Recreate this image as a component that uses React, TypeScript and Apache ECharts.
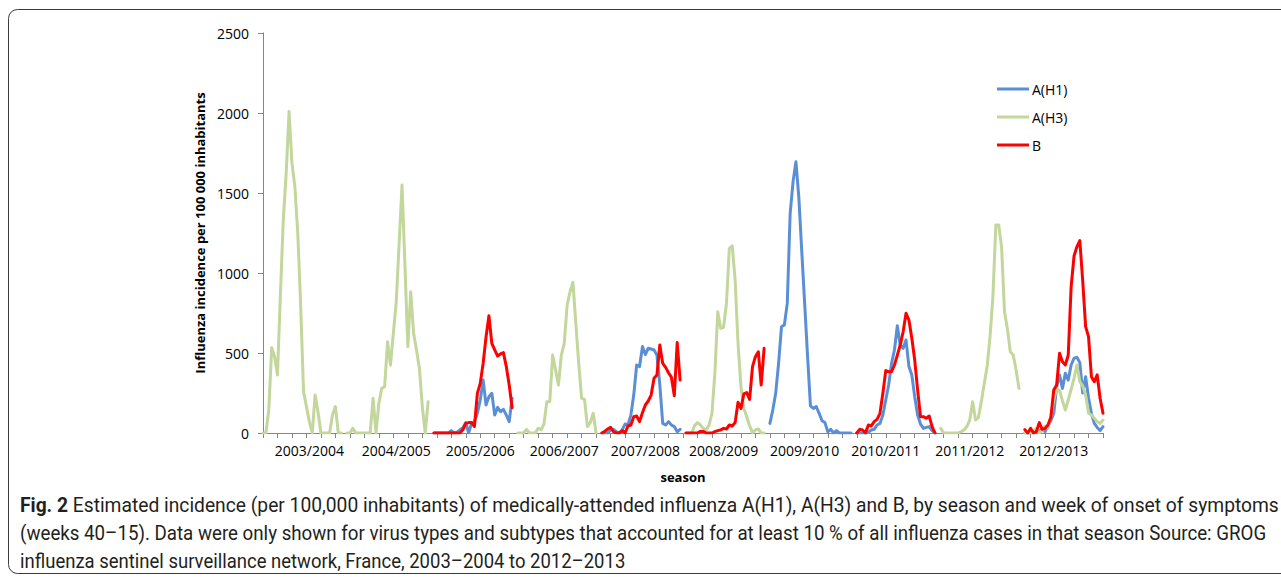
import React, { useEffect, useRef } from 'react';
import * as echarts from 'echarts';

// Seasons (x-axis groups) and number of surveillance weeks (40 -> 15) in each
const SEASONS = ['2003/2004', '2004/2005', '2005/2006', '2006/2007', '2007/2008', '2008/2009', '2009/2010', '2010/2011', '2011/2012', '2012/2013'];
const WEEKS_PER_SEASON = [28, 29, 28, 28, 28, 28, 29, 28, 28, 28];
// week row (within the season) that carries the season's category label
const LABEL_WEEK = [16, 17, 16, 16, 15, 13, 12, 10, 10, 10];

const Y_TICKS = [0, 500, 1000, 1500, 2000, 2500];

// Weekly incidence per 100 000 inhabitants, per season (null = subtype not shown that season)
const H1_2005 = [0, 0, 0, 0, 0, 0, 15, 0, 5, 20, 33, 65, 0, 60, 70, 123, 206, 331, 175, 227, 248, 112, 160, 133, 148, 112, 71, 217];
const H1_2007 = [0, 0, 0, 19, 23, 8, 0, 19, 56, 50, 112, 237, 425, 415, 540, 490, 530, 525, 519, 487, 300, 60, 50, 71, 50, 40, 8, 23];
const H1_2009 = [60, 144, 248, 435, 664, 675, 810, 1373, 1571, 1695, 1470, 1137, 810, 481, 169, 154, 165, 123, 77, 65, 8, 23, 0, 15, 0, 0, 0, 0, 0];
const H1_2010 = [0, 0, 0, 0, 5, 19, 23, 50, 60, 112, 206, 300, 435, 519, 670, 550, 529, 581, 415, 362, 227, 112, 56, 29, 35, 40, 15, 0];
const H1_2012 = [0, 0, 0, 0, 15, 8, 29, 8, 44, 77, 123, 290, 363, 279, 373, 331, 425, 467, 473, 440, 250, 352, 220, 123, 60, 35, 15, 40];

const H3_2003 = [0, 0, 144, 533, 477, 363, 862, 1331, 1623, 2010, 1685, 1540, 1250, 800, 258, 165, 71, 0, 238, 130, 0, 0, 0, 0, 115, 165, 0, 0];
const H3_2004 = [0, 0, 30, 0, 0, 0, 0, 0, 0, 217, 0, 185, 280, 290, 571, 425, 623, 820, 1185, 1550, 1050, 540, 883, 623, 519, 404, 165, 0, 196];
const H3_2006 = [0, 0, 0, 23, 0, 0, 0, 30, 20, 56, 196, 196, 487, 394, 300, 487, 560, 800, 883, 942, 685, 435, 217, 210, 40, 65, 123, 0];
const H3_2008 = [0, 0, 0, 46, 65, 50, 29, 19, 50, 123, 373, 758, 654, 660, 810, 1154, 1169, 956, 560, 290, 154, 102, 44, 2, 19, 25, 0, 0];
const H3_2011 = [29, 0, 0, 0, 0, 0, 0, 8, 19, 40, 81, 196, 81, 98, 196, 310, 415, 602, 852, 1300, 1300, 1160, 758, 650, 508, 487, 394, 279];
const H3_2012 = [0, 0, 0, 8, 29, 0, 15, 44, 29, 102, 206, 279, 265, 202, 144, 206, 273, 342, 425, 321, 294, 237, 123, 112, 92, 71, 60, 81];

const B_2005 = [0, 0, 0, 0, 0, 0, 0, 0, 0, 0, 20, 60, 65, 65, 40, 248, 310, 435, 600, 733, 560, 519, 481, 494, 502, 415, 300, 158];
const B_2007 = [0, 10, 25, 35, 8, 0, 0, 15, 0, 44, 50, 102, 106, 71, 127, 175, 200, 237, 342, 362, 550, 435, 410, 377, 348, 233, 565, 331];
const B_2008 = [0, 0, 0, 0, 0, 10, 10, 0, 0, 0, 8, 15, 19, 29, 25, 50, 44, 65, 192, 154, 244, 252, 210, 415, 477, 508, 300, 529];
const B_2010 = [0, 23, 19, 0, 50, 44, 71, 85, 123, 248, 390, 383, 383, 425, 487, 550, 633, 748, 706, 592, 456, 269, 102, 102, 92, 106, 40, 0];
const B_2012 = [21, 0, 29, 0, 8, 65, 23, 29, 50, 98, 269, 300, 498, 446, 425, 487, 914, 1106, 1164, 1202, 950, 665, 602, 352, 321, 363, 217, 123];

const H1_BY_SEASON = [null, null, H1_2005, null, H1_2007, null, H1_2009, H1_2010, null, H1_2012];
const H3_BY_SEASON = [H3_2003, H3_2004, null, H3_2006, null, H3_2008, null, null, H3_2011, H3_2012];
const B_BY_SEASON = [null, null, B_2005, null, B_2007, B_2008, null, B_2010, null, B_2012];

const SERIES_NAMES = ['A(H1)', 'A(H3)', 'B'];
const SERIES_COLORS = ['#5A8FD6', '#C3D69B', '#FF0000'];

const CAPTION_1 = 'Estimated incidence (per 100,000 inhabitants) of medically-attended influenza A(H1), A(H3) and B, by season and week of onset of symptoms';
const CAPTION_2 = '(weeks 40\u201315). Data were only shown for virus types and subtypes that accounted for at least 10 % of all influenza cases in that season Source: GROG';
const CAPTION_3 = 'influenza sentinel surveillance network, France, 2003\u20132004 to 2012\u20132013';

// ---- build the category axis (one row per week, one blank row between seasons)
const categories: string[] = [];
const labelAt: string[] = [];
SEASONS.forEach((s, si) => {
  const n = WEEKS_PER_SEASON[si];
  const firstYearWeeks = n - 15;
  for (let w = 0; w < n; w++) {
    const wk = w < firstYearWeeks ? 40 + w : w - firstYearWeeks + 1;
    categories.push(`${s} W${wk}`);
    labelAt.push(w === LABEL_WEEK[si] ? s : '');
  }
  if (si < SEASONS.length - 1) {
    categories.push(`${s} -`);
    labelAt.push('');
  }
});

function flatten(bySeason: (number[] | null)[]) {
  const out: (number | null)[] = [];
  SEASONS.forEach((_, si) => {
    const n = WEEKS_PER_SEASON[si];
    const arr = bySeason[si];
    for (let w = 0; w < n; w++) out.push(arr ? arr[w] : null);
    if (si < SEASONS.length - 1) out.push(null);
  });
  return out;
}

const SERIES_DATA = [flatten(H1_BY_SEASON), flatten(H3_BY_SEASON), flatten(B_BY_SEASON)];

const FONT = 'Open Sans';
const CAP_FONT = 'Roboto';
const CAP_SIZE = 20;
// legend key: a thin horizontal bar inside an invisible 32x14 box
const LEGEND_ICON = 'path://M0,0 M0,5.5 L32,5.5 L32,8.5 L0,8.5 Z M32,14';

export default function App() {
  const ref = useRef<HTMLDivElement>(null);
  useEffect(() => {
    if (!ref.current) return;
    const chart = echarts.init(ref.current, null, { renderer: 'svg' });
    const capStyle = (text: string) => ({
      text,
      fontFamily: CAP_FONT,
      fontSize: CAP_SIZE,
      fill: '#231f20',
      verticalAlign: 'middle' as const,
      rich: {
        b: { fontFamily: CAP_FONT, fontSize: CAP_SIZE, fontWeight: 'bold', fill: '#231f20' },
        n: { fontFamily: CAP_FONT, fontSize: CAP_SIZE, fill: '#231f20' },
      },
    });
    chart.setOption({
      animation: false,
      backgroundColor: '#ffffff',
      textStyle: { fontFamily: FONT },
      grid: { left: 263, right: 178, top: 33, bottom: 144 },
      legend: {
        orient: 'vertical',
        left: 992,
        top: 77,
        padding: 5,
        itemWidth: 32,
        itemHeight: 14,
        itemGap: 14,
        icon: LEGEND_ICON,
        data: SERIES_NAMES,
        textStyle: { fontFamily: FONT, fontSize: 14, color: '#000', padding: [0, 0, 0, -2] },
      },
      xAxis: {
        type: 'category',
        data: categories,
        boundaryGap: false,
        name: 'season',
        nameLocation: 'middle',
        nameGap: 37,
        nameTextStyle: { fontFamily: FONT, fontSize: 13, fontWeight: 'bold', color: '#000' },
        axisLine: { lineStyle: { color: '#868686', width: 1 } },
        axisTick: { interval: 4, length: 5, lineStyle: { color: '#868686' } },
        axisLabel: {
          interval: 0,
          formatter: (_v: string, i: number) => labelAt[i],
          fontFamily: FONT,
          fontSize: 14,
          color: '#000',
          margin: 10,
        },
        splitLine: { show: false },
      },
      yAxis: {
        type: 'value',
        min: Y_TICKS[0],
        max: Y_TICKS[Y_TICKS.length - 1],
        interval: Y_TICKS[1] - Y_TICKS[0],
        name: 'Influenza incidence per 100 000 inhabitants',
        nameLocation: 'middle',
        nameGap: 39,
        nameRotate: 90,
        nameTextStyle: { fontFamily: FONT, fontSize: 13, fontWeight: 'bold', color: '#000' },
        axisLine: { show: true, lineStyle: { color: '#868686', width: 1 } },
        axisTick: { show: true, length: 5, lineStyle: { color: '#868686' } },
        axisLabel: {
          fontFamily: FONT,
          fontSize: 14,
          color: '#000',
          margin: 14,
          formatter: (v: number) => String(v),
        },
        splitLine: { show: false },
      },
      series: SERIES_NAMES.map((name, k) => ({
        name,
        type: 'line',
        data: SERIES_DATA[k],
        symbol: 'none',
        connectNulls: false,
        color: SERIES_COLORS[k],
        itemStyle: { color: SERIES_COLORS[k] },
        lineStyle: { color: SERIES_COLORS[k], width: 3, cap: 'round', join: 'round' },
        z: 2 + k,
      })),
      graphic: [
        {
          type: 'rect',
          silent: true,
          shape: { x: 8.5, y: 9.5, width: 1300, height: 564, r: 9 },
          style: { fill: 'none', stroke: '#3c3c3c', lineWidth: 1 },
        },
        { type: 'text', x: 20, y: 505, scaleX: 0.962, style: capStyle('{b|Fig. 2} {n|' + CAPTION_1 + '}') },
        { type: 'text', x: 20, y: 533, scaleX: 0.936, style: capStyle(CAPTION_2) },
        { type: 'text', x: 20, y: 561, scaleX: 0.925, style: capStyle(CAPTION_3) },
      ],
    });
    return () => chart.dispose();
  }, []);
  return (
    <div
      ref={ref}
      style={{ position: 'fixed', left: 0, top: 0, width: 1281, height: 577, background: '#fff' }}
    />
  );
}
